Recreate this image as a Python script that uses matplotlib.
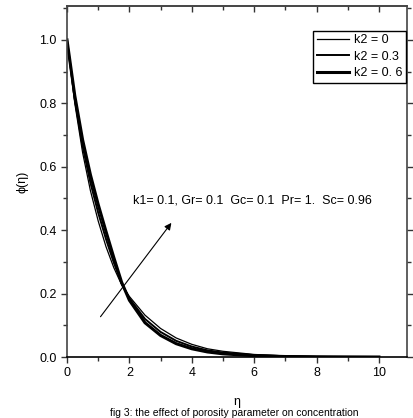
import numpy as np
import matplotlib.pyplot as plt
from matplotlib.ticker import MultipleLocator

plt.rcParams['font.family'] = ['Liberation Sans', 'DejaVu Sans']

# similarity variable
eta = [0, 0.25, 0.5, 0.75, 1.0, 1.25, 1.5, 1.75, 2.0, 2.5, 3.0, 3.5,
       4.0, 4.5, 5.0, 6.0, 7.0, 8.0, 9.0, 10.0]

# concentration profiles for three values of k2 (they cross near eta = 1.8)
phi_k2_0 = [1.0, 0.800, 0.645, 0.525, 0.429, 0.348, 0.282, 0.228, 0.191,
            0.132, 0.090, 0.060, 0.040, 0.026, 0.018, 0.008, 0.0035, 0.0015, 0.0006, 0.0]
phi_k2_03 = [1.0, 0.812, 0.665, 0.550, 0.455, 0.372, 0.298, 0.232, 0.185,
             0.120, 0.079, 0.051, 0.033, 0.021, 0.014, 0.006, 0.0025, 0.001, 0.0004, 0.0]
phi_k2_06 = [1.0, 0.824, 0.685, 0.575, 0.481, 0.396, 0.314, 0.236, 0.179,
             0.108, 0.068, 0.042, 0.026, 0.016, 0.010, 0.004, 0.0015, 0.0005, 0.0002, 0.0]

labels = ['k2 = 0', 'k2 = 0.3', 'k2 = 0. 6']
widths = [0.9, 1.4, 2.2]

fig = plt.figure(figsize=(4.14, 4.18), dpi=100)
ax = fig.add_axes([67/414, 1 - 357/418, 340/414, 351/418])

for ys, lab, lw in zip([phi_k2_0, phi_k2_03, phi_k2_06], labels, widths):
    ax.plot(eta, ys, color='black', lw=lw, label=lab)

ax.set_xlim(0, 10.9)
ax.set_ylim(0, 1.107)
ax.xaxis.set_major_locator(MultipleLocator(2))
ax.xaxis.set_minor_locator(MultipleLocator(1))
ax.yaxis.set_major_locator(MultipleLocator(0.2))
ax.yaxis.set_minor_locator(MultipleLocator(0.1))
ax.yaxis.set_major_formatter(plt.FormatStrFormatter('%.1f'))

ax.tick_params(which='both', direction='out', labelsize=9, width=1,
               color='#333333', right=True)
ax.tick_params(which='major', length=4)
ax.tick_params(which='minor', length=3)
for s in ax.spines.values():
    s.set_color('#444444')
    s.set_linewidth(1.2)
ax.spines['bottom'].set_color('black')

# ticks along the top edge point inwards
top = ax.secondary_xaxis('top')
top.xaxis.set_major_locator(MultipleLocator(2))
top.xaxis.set_minor_locator(MultipleLocator(1))
top.tick_params(which='both', direction='in', labeltop=False, width=1, color='#333333')
top.tick_params(which='major', length=4)
top.tick_params(which='minor', length=3)
top.spines['top'].set_color('#444444')
top.spines['top'].set_linewidth(1.2)

ax.set_xlabel('η', fontsize=9, labelpad=12)
ax.set_ylabel('ϕ(η)', fontsize=9, labelpad=8)

leg = ax.legend(loc='upper right', bbox_to_anchor=(0.998, 0.93), fontsize=9,
                frameon=True, fancybox=False, edgecolor='black', framealpha=1,
                handlelength=2.6, handletextpad=0.4, borderpad=0.3,
                labelspacing=0.35, borderaxespad=0)
leg.get_frame().set_linewidth(1.0)

ax.text(2.1, 0.495, 'k1= 0.1, Gr= 0.1  Gc= 0.1  Pr= 1.  Sc= 0.96',
        fontsize=9, va='center')
ax.annotate('', xy=(3.4, 0.43), xytext=(1.02, 0.12),
            arrowprops=dict(arrowstyle='-|>', color='black', lw=0.8,
                            mutation_scale=10))

fig.text(110/414, 0.5/418, 'fig 3: the effect of porosity parameter on concentration',
         fontsize=7.5, va='bottom')

fig.savefig('out.png', dpi=100)
